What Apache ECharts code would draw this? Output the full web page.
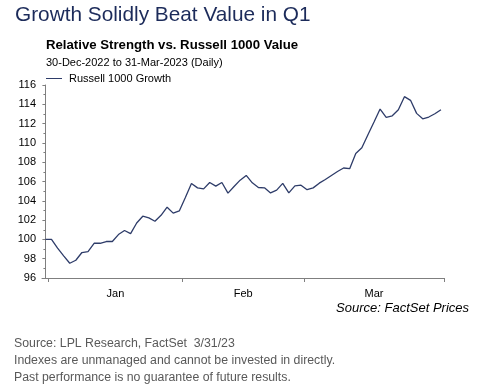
<!DOCTYPE html>
<html>
<head>
<meta charset="utf-8">
<script src="https://cdn.jsdelivr.net/npm/echarts@6/dist/echarts.min.js"></script>
<style>
html,body{margin:0;padding:0;background:#fff;}
#c{width:480px;height:390px;}
</style>
</head>
<body>
<div id="c"></div>
<script>
// Trading weekdays (FactSet daily, holidays carried forward)
const dates = [
  "2022-12-30",
  "2023-01-02","2023-01-03","2023-01-04","2023-01-05","2023-01-06",
  "2023-01-09","2023-01-10","2023-01-11","2023-01-12","2023-01-13",
  "2023-01-16","2023-01-17","2023-01-18","2023-01-19","2023-01-20",
  "2023-01-23","2023-01-24","2023-01-25","2023-01-26","2023-01-27",
  "2023-01-30","2023-01-31",
  "2023-02-01","2023-02-02","2023-02-03",
  "2023-02-06","2023-02-07","2023-02-08","2023-02-09","2023-02-10",
  "2023-02-13","2023-02-14","2023-02-15","2023-02-16","2023-02-17",
  "2023-02-20","2023-02-21","2023-02-22","2023-02-23","2023-02-24",
  "2023-02-27","2023-02-28",
  "2023-03-01","2023-03-02","2023-03-03",
  "2023-03-06","2023-03-07","2023-03-08","2023-03-09","2023-03-10",
  "2023-03-13","2023-03-14","2023-03-15","2023-03-16","2023-03-17",
  "2023-03-20","2023-03-21","2023-03-22","2023-03-23","2023-03-24",
  "2023-03-27","2023-03-28","2023-03-29","2023-03-30","2023-03-31"
];
const growthRel = [
  100.0,
  100.0, 99.1, 98.3, 97.53, 97.84,
  98.64, 98.74, 99.6, 99.6, 99.78,
  99.78, 100.5, 100.92, 100.6, 101.7,
  102.4, 102.23, 101.88, 102.5, 103.34,
  102.72, 102.95,
  104.34, 105.8, 105.34,
  105.24, 105.9, 105.52, 105.9, 104.8,
  105.48, 106.14, 106.63, 105.86, 105.38,
  105.34, 104.82, 105.1, 105.8, 104.82,
  105.55, 105.62,
  105.15, 105.34, 105.83,
  106.21, 106.63, 107.04, 107.4, 107.33,
  108.91, 109.49, 110.85, 112.16, 113.51,
  112.65, 112.81, 113.44, 114.79, 114.41,
  113.06, 112.5, 112.68, 113.02, 113.44
];
const monthLabels = ["Jan", "Feb", "Mar"];
const monthBoundaries = [0.5, 22.5, 42.5, 65.5]; // between last day of a month and first of next
const yTicks = [96, 116, 2];
const seriesName = "Russell 1000 Growth";

const monthCenters = monthLabels.map((m, i) => (monthBoundaries[i] + monthBoundaries[i + 1]) / 2);
const FONT = '"Liberation Sans", Arial, sans-serif';

const chart = echarts.init(document.getElementById('c'), null, {renderer: 'canvas'});
chart.setOption({
  animation: false,
  backgroundColor: '#ffffff',
  textStyle: {fontFamily: FONT},
  grid: {left: 42, right: 36, top: 85, bottom: 112, containLabel: false},
  legend: {
    show: true,
    left: 46, top: 73,
    padding: 0,
    icon: 'rect',
    itemWidth: 16, itemHeight: 1, itemGap: 6,
    textStyle: {fontSize: 11, color: '#000', fontFamily: FONT, padding: [0, 0, 0, 2]},
    data: [seriesName]
  },
  xAxis: {
    type: 'value',
    min: -0.56, max: 65.5,
    splitLine: {show: false},
    axisLine: {show: true, lineStyle: {color: '#7f7f7f', width: 1}},
    axisTick: {show: true, length: 4, inside: false, lineStyle: {color: '#7f7f7f'}, customValues: monthBoundaries},
    axisLabel: {
      show: true, fontSize: 11, color: '#000', margin: 10, fontFamily: FONT,
      customValues: monthCenters,
      formatter: function (v) {
        const i = monthCenters.findIndex(c => Math.abs(c - v) < 1e-6);
        return i >= 0 ? monthLabels[i] : '';
      }
    }
  },
  yAxis: {
    type: 'value',
    min: yTicks[0], max: yTicks[1], interval: yTicks[2],
    splitLine: {show: false},
    axisLine: {show: true, lineStyle: {color: '#7f7f7f', width: 1}},
    axisTick: {show: true, length: 3, lineStyle: {color: '#7f7f7f'}},
    minorTick: {show: true, splitNumber: 2, length: 2, lineStyle: {color: '#7f7f7f'}},
    axisLabel: {fontSize: 11, color: '#000', margin: 6, fontFamily: FONT}
  },
  series: [{
    name: seriesName,
    type: 'line',
    symbol: 'none',
    data: growthRel.map((v, i) => [i, v]),
    lineStyle: {color: '#2e3c69', width: 1.3},
    itemStyle: {color: '#2e3c69'}
  }],
  graphic: [
    {type: 'text', left: 15, top: 5, style: {text: 'Growth Solidly Beat Value in Q1', font: '20.8px ' + FONT, fill: '#1c2b5a'}},
    {type: 'text', left: 46, top: 39, style: {text: 'Relative Strength vs. Russell 1000 Value', font: 'bold 13.2px ' + FONT, fill: '#000'}},
    {type: 'text', left: 46, top: 57, style: {text: '30-Dec-2022 to 31-Mar-2023 (Daily)', font: '11px ' + FONT, fill: '#000'}},
    {type: 'text', right: 11, top: 302, style: {text: 'Source: FactSet Prices', font: 'italic 13px ' + FONT, fill: '#000'}},
    {type: 'text', left: 14, top: 338, style: {text: 'Source: LPL Research, FactSet  3/31/23', font: '12.3px ' + FONT, fill: '#595959'}},
    {type: 'text', left: 14, top: 355, style: {text: 'Indexes are unmanaged and cannot be invested in directly.', font: '12.3px ' + FONT, fill: '#595959'}},
    {type: 'text', left: 14, top: 372, style: {text: 'Past performance is no guarantee of future results.', font: '12.3px ' + FONT, fill: '#595959'}}
  ]
});
</script>
</body>
</html>
